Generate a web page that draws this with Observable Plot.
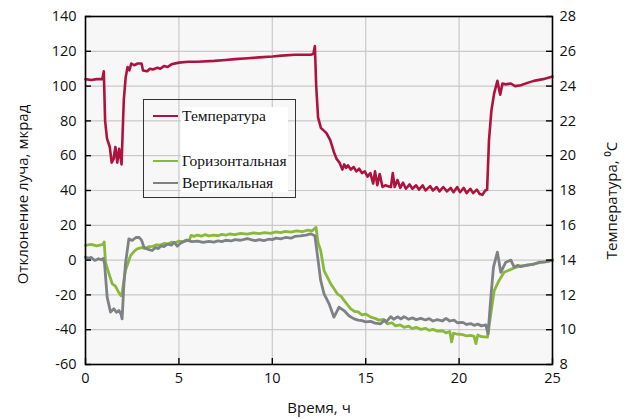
<!DOCTYPE html>
<html>
<head>
<meta charset="utf-8">
<script src="https://cdn.jsdelivr.net/npm/d3@7"></script>
<script src="https://cdn.jsdelivr.net/npm/@observablehq/plot@0.6"></script>
<style>
  html, body { margin: 0; padding: 0; background: #fff; }
  #wrap { position: relative; width: 626px; height: 419px; }
  #legend { position: absolute; left: 143px; top: 99px; width: 153px; height: 99px;
            border: 1.2px solid #333; box-sizing: border-box; }
  #legend .white { position: absolute; left: 37px; top: 7px; width: 107px; height: 85px; background: #fff; }
  #legend .item { position: absolute; left: 9px; height: 20px; display: flex; align-items: center;
                  font-family: "Liberation Serif", "DejaVu Serif", serif; font-size: 15.5px; color: #111; }
  #legend .sw { width: 25px; height: 0; border-top: 2.6px solid; margin-right: 4px; }
</style>
</head>
<body>
<div id="wrap"></div>
<script>
// ---- data ----
const tempTime = [0,0.3,0.6,0.9,0.98,1.05,1.15,1.3,1.4,1.5,1.6,1.7,1.8,1.93,2.05,2.15,2.25,2.35,2.45,2.6,2.8,3.0,3.08,3.3,3.45,3.6,3.85,4.0,4.2,4.4,4.6,5.0,5.5,6.0,6.9,7.5,8.0,8.7,9.3,10.0,10.5,11.2,12.05,12.2,12.28,12.35,12.45,12.6,12.9,13.1,13.3,13.45,13.6,13.75,13.85,13.95,14.05,14.2,14.35,14.5,14.65,14.8,14.95,15.1,15.25,15.4,15.5,15.62,15.75,15.9,16.05,16.2,16.35,16.45,16.55,16.7,16.85,17.0,17.15,17.35,17.5,17.7,17.85,18.05,18.2,18.45,18.6,18.8,18.95,19.15,19.35,19.55,19.7,19.9,20.05,20.25,20.4,20.6,20.75,20.95,21.1,21.25,21.4,21.5,21.6,21.73,21.87,22.05,22.2,22.32,22.5,22.77,23.0,23.3,23.7,24.0,24.5,25.0];
const tempValue = [24.4,24.35,24.4,24.4,24.85,22.0,21.0,20.5,19.6,19.8,20.5,19.6,20.4,19.5,23.2,24.5,25.1,24.9,25.3,25.2,25.3,25.3,24.9,24.85,25.0,24.95,25.05,25.0,25.15,25.1,25.25,25.35,25.4,25.4,25.45,25.5,25.55,25.6,25.65,25.7,25.75,25.8,25.8,25.85,26.3,24.0,22.2,21.6,21.3,20.9,20.2,19.8,19.6,19.2,19.5,19.3,19.45,19.2,19.35,19.1,19.25,19.0,19.1,18.8,19.0,18.4,19.1,18.3,18.95,18.2,18.3,18.25,18.2,19.0,18.2,18.6,18.15,18.45,18.1,18.35,18.1,18.3,18.05,18.3,18.0,18.25,18.0,18.2,17.95,18.2,17.95,18.15,17.9,18.2,17.9,18.15,17.85,18.1,17.85,18.05,17.8,17.75,18.0,18.05,20.9,22.6,23.55,24.3,23.5,24.15,24.1,24.15,24.0,24.05,24.2,24.3,24.4,24.55];

const horizTime = [0,0.3,0.6,0.95,1.0,1.07,1.2,1.43,1.6,1.75,1.9,1.96,2.05,2.14,2.3,2.41,2.6,2.77,3.0,3.2,3.4,3.6,3.8,4.0,4.2,4.4,4.6,4.8,5.0,5.2,5.4,5.55,5.65,5.8,6.0,6.2,6.4,6.6,6.87,7.1,7.3,7.5,7.7,8.0,8.3,8.66,9.0,9.3,9.6,9.9,10.2,10.45,10.7,11.0,11.3,11.6,11.9,12.14,12.34,12.45,12.59,12.77,13.13,13.48,13.7,13.84,14.2,14.4,14.6,14.8,15.0,15.27,15.5,15.7,15.95,16.16,16.4,16.6,16.85,17.05,17.3,17.5,17.7,17.95,18.2,18.4,18.6,18.84,19.1,19.3,19.5,19.6,19.7,19.9,20.2,20.4,20.62,20.8,20.9,21.0,21.2,21.52,21.7,21.88,22.14,22.41,22.95,23.3,23.66,24.0,24.3,24.6,25.0];
const horizValue = [8.5,9,8.2,9,10.5,-1,-6,-13.6,-15,-18,-20.5,-19,-12,-6,-1,2.6,5,6.5,7.2,6.6,7.8,7.9,8.8,8.6,9.6,9.3,10.3,10.0,10.9,10.6,11.6,11.2,14.2,13.6,14.4,13.8,14.6,13.9,14.3,14.0,14.8,14.3,15.0,14.6,15.3,14.9,15.6,15.2,15.8,15.4,16.2,15.8,16.5,16.1,16.8,16.3,17.2,16.8,18.9,10,5.5,-6,-13.6,-19.4,-21,-23.2,-28,-29.5,-29.8,-31.5,-31,-32.8,-33.5,-34.5,-34,-36.6,-36,-37.8,-37.2,-38.6,-38,-39.4,-38.6,-39.8,-39.2,-40.4,-39.8,-40.8,-40.6,-41.8,-41,-47,-42,-42.6,-42.8,-43.6,-43.3,-43.8,-48,-43,-44,-44.3,-30.9,-17.5,-11.7,-7,-4.5,-3.3,-3.1,-2.2,-1.5,-1.0,0];

const vertTime = [0,0.15,0.3,0.5,0.7,0.85,0.95,1.02,1.16,1.34,1.52,1.65,1.79,1.9,1.96,2.05,2.14,2.32,2.5,2.7,2.86,3.0,3.13,3.35,3.57,3.75,3.9,4.05,4.2,4.4,4.6,4.75,4.91,5.1,5.25,5.45,5.7,6.0,6.3,6.6,6.87,7.1,7.3,7.5,7.8,8.0,8.3,8.66,8.9,9.1,9.3,9.55,9.8,10.0,10.2,10.45,10.7,11.0,11.2,11.5,11.8,12.05,12.28,12.45,12.59,12.77,12.86,13.04,13.3,13.48,13.57,13.84,14.1,14.38,14.6,14.8,15.0,15.27,15.5,15.8,16.0,16.1,16.34,16.5,16.7,16.9,17.05,17.3,17.5,17.7,17.95,18.2,18.4,18.6,18.84,19.1,19.3,19.5,19.73,19.9,20.2,20.4,20.62,20.8,21.0,21.2,21.43,21.55,21.7,21.84,22.05,22.23,22.5,22.77,22.95,23.15,23.3,23.66,24.0,24.3,24.6,25.0];
const vertValue = [1.7,1.0,1.6,-0.2,0.8,0.2,1,-2,-21.3,-29.9,-28,-30,-29,-31,-33.8,-15,-2.1,12.2,11.3,13,13.1,11.5,7.4,6.2,5.5,7.2,6.6,8.2,7.8,9.2,8.6,10.2,8.0,9.8,10.6,11.3,10.6,10.9,10.2,10.8,10.3,11.0,10.6,11.4,11.0,11.8,11.4,12.4,11.6,11.2,11.8,11.2,12.0,11.8,12.6,12.2,13.0,12.6,13.6,13.9,14.4,15.1,14,0,-11.7,-19.4,-21.3,-25.1,-32.8,-29,-27.1,-29,-32,-33.8,-34.5,-34.8,-35.5,-35.2,-36.2,-36.6,-34.5,-35.5,-32.5,-34,-32.6,-33.8,-32.5,-34,-33.2,-34.2,-33.5,-34.4,-33.6,-35,-34.2,-35,-33.5,-35,-34.5,-36,-35.8,-37,-36.5,-37.5,-36.8,-37.8,-37.2,-42.4,-21.3,-4,4.6,-7,-1.2,0,-4,-3,-3.8,-2.8,-2.4,-1.2,-1.0,-0.2];

const xTicks = [0,5,10,15,20,25];
const yTicks = [-60,-40,-20,0,20,40,60,80,100,120,140];
const tempTickLabels = [8,10,12,14,16,18,20,22,24,26,28];

const seriesNames = ["Температура","Горизонтальная","Вертикальная"];
const seriesColors = ["#ae1340","#8ab83c","#7e8186"];
const xLabel = "Время, ч";
const yLabel = "Отклонение луча, мкрад";
const y2Label = "Температура, \u2070C";

// ---- build rows ----
const tempRows = tempTime.map((t, i) => ({t, v: tempValue[i]}));
const horizRows = horizTime.map((t, i) => ({t, v: horizValue[i]}));
const vertRows = vertTime.map((t, i) => ({t, v: vertValue[i]}));
// temperature (right axis, 8..28 °C) mapped onto left scale (-60..140)
const tempToLeft = T => (T - 8) * 10 - 60;

const W = 626, H = 419, mL = 85, mR = 74, mT = 16, mB = 55;
const pw = W - mL - mR, ph = H - mT - mB;
const tickLen = 6;

const chart = Plot.plot({
  width: W, height: H,
  marginLeft: mL, marginRight: mR, marginTop: mT, marginBottom: mB,
  style: {fontFamily: "'Open Sans', sans-serif", fontSize: "14px", color: "#111", background: "#fff"},
  x: {domain: [0, 25]},
  y: {domain: [-60, 140]},
  marks: [
    Plot.frame({fill: "#f7f7f7", stroke: null}),
    Plot.gridX(xTicks, {stroke: "#c9c9c9", strokeOpacity: 1, strokeWidth: 1.2}),
    Plot.gridY(yTicks, {stroke: "#c9c9c9", strokeOpacity: 1, strokeWidth: 1.2}),
    Plot.line(horizRows, {x: "t", y: "v", stroke: seriesColors[1], strokeWidth: 2.8, curve: "linear"}),
    Plot.line(vertRows, {x: "t", y: "v", stroke: seriesColors[2], strokeWidth: 2.8, curve: "linear"}),
    Plot.line(tempRows, {x: "t", y: d => tempToLeft(d.v), stroke: seriesColors[0], strokeWidth: 2.6, curve: "linear"}),
    Plot.frame({stroke: "#000", strokeWidth: 1.6}),
    // inward ticks
    Plot.ruleY(yTicks, {stroke: "#000", strokeWidth: 1.4, insetRight: pw - tickLen}),
    Plot.ruleY(yTicks, {stroke: "#000", strokeWidth: 1.4, insetLeft: pw - tickLen}),
    Plot.ruleX(xTicks, {stroke: "#000", strokeWidth: 1.4, insetTop: ph - tickLen}),
    Plot.axisX({ticks: xTicks, tickSize: 0, tickPadding: 8, label: null, fontSize: 14.5}),
    Plot.axisY({ticks: yTicks, anchor: "left", tickSize: 0, tickPadding: 9, label: null, tickFormat: d => String(d), fontSize: 14.5}),
    Plot.axisY({ticks: yTicks, anchor: "right", tickSize: 0, tickPadding: 7, label: null,
                tickFormat: d => String(tempTickLabels[yTicks.indexOf(d)]), fontSize: 14.5}),
    Plot.text([xLabel], {text: d => d, frameAnchor: "bottom", dy: 44, textAnchor: "middle", lineAnchor: "middle", fontSize: 15}),
    Plot.text([yLabel], {text: d => d, frameAnchor: "left", dx: -62, dy: 4, textAnchor: "middle", lineAnchor: "middle", rotate: -90, fontSize: 15}),
    Plot.text([y2Label], {text: d => d, frameAnchor: "right", dx: 60, dy: 10, textAnchor: "middle", lineAnchor: "middle", rotate: -90, fontSize: 15})
  ]
});

const wrap = document.getElementById("wrap");
wrap.appendChild(chart);

// legend (HTML overlay inside the plot area)
const legend = document.createElement("div");
legend.id = "legend";
legend.innerHTML = '<div class="white"></div>';
const itemTops = [6, 51, 73];
seriesNames.forEach((name, i) => {
  const it = document.createElement("div");
  it.className = "item";
  it.style.top = itemTops[i] + "px";
  it.innerHTML = `<span class="sw" style="border-color:${seriesColors[i]}"></span><span>${name}</span>`;
  legend.appendChild(it);
});
wrap.appendChild(legend);
</script>
</body>
</html>
